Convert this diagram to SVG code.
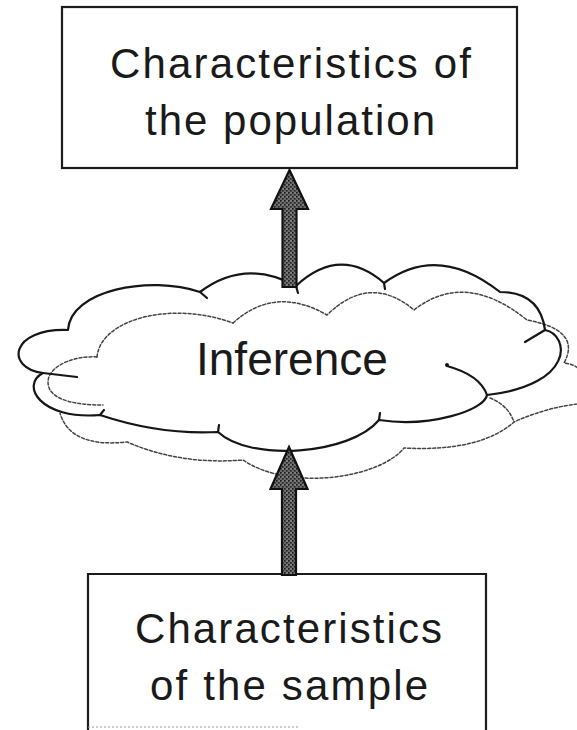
<svg xmlns="http://www.w3.org/2000/svg" width="577" height="730" viewBox="0 0 577 730">
  <defs>
    <!-- stippled texture for the block arrows -->
    <pattern id="stipple" width="4" height="4" patternUnits="userSpaceOnUse">
      <rect width="4" height="4" fill="#6a6a6a"/>
      <rect x="0" y="0" width="1.6" height="1.6" fill="#1a1a1a"/>
      <rect x="2" y="2" width="1.6" height="1.6" fill="#222"/>
      <rect x="2.5" y="0.5" width="1" height="1" fill="#b0b0b0"/>
    </pattern>
  </defs>
  <style>
    .box { fill: none; stroke: #1c1c1c; stroke-width: 2.2; }
    .label { font-family: "Liberation Sans", Arial, Helvetica, sans-serif; font-size: 42px; fill: #1a1a1a; }
    .cloud { fill: none; stroke: #161616; stroke-width: 2.2; stroke-linecap: round; stroke-linejoin: round; }
    .cloud-back { fill: none; stroke: #444; stroke-width: 1.5; stroke-dasharray: 3 2; stroke-linecap: round; }
    .arrow { fill: url(#stipple); stroke: #111; stroke-width: 2.2; stroke-linejoin: miter; }
  </style>

  <rect width="577" height="730" fill="#ffffff"/>

  <!-- top node -->
  <g id="population">
    <rect class="box" x="62" y="7" width="455" height="161"/>
    <text class="label" x="110" y="78" textLength="361" lengthAdjust="spacing">Characteristics of</text>
    <text class="label" x="145" y="135" textLength="290" lengthAdjust="spacing">the population</text>
  </g>

  <!-- middle node: cloud -->
  <g id="inference">
    <!-- rear outline, dashed -->
    <path class="cloud-back" d="M233,323 Q275,285 327,315 Q370,273 414,310 Q465,270 527,320 Q582,330 564,363 C590,365 600,400 577,404 Q545,408 514,422 Q480,452 404,448 C380,478 290,492 243,460 Q180,465 127,442 Q70,448 60,413"/>
    <path class="cloud-back" d="M97,357 C100,320 170,300 233,323"/>
    <path class="cloud-back" d="M97,357 C70,355 40,370 50,390 Q60,405 103,405"/>
    <path class="cloud-back" d="M490,398 Q508,405 514,422"/>
    <!-- front outline, solid -->
    <path class="cloud" d="M296,286 Q340,245 384,283 Q438,243 500,292 Q540,292 545,330 C570,335 575,385 487,395 C485,410 430,428 379,420 C350,455 250,462 218,432 Q160,435 100,415 C40,420 20,385 43,373 C5,368 10,328 68,330 C70,290 150,275 200,292 Q245,258 296,286"/>
    <path class="cloud" d="M447,366 Q480,375 487,395"/>
    <circle cx="447" cy="365" r="2" fill="#161616"/>
    <path class="cloud" d="M200,292 L207,298 M43,373 L77,377 M100,415 L104,410 M218,432 L219,425 M379,420 L380,413 M384,283 L385,289 M545,330 L525,342 M296,286 L298,293"/>
    <text class="label" x="196" y="375" style="font-size:46px">Inference</text>
  </g>

  <!-- bottom node -->
  <g id="sample">
    <path class="box" d="M88,730 V574 H486 V730"/>
    <path d="M88,727 H300" fill="none" stroke="#9a9a9a" stroke-width="1.2" stroke-dasharray="2 2"/>
    <text class="label" x="135" y="643" textLength="307" lengthAdjust="spacing">Characteristics</text>
    <text class="label" x="150" y="700" textLength="278" lengthAdjust="spacing">of the sample</text>
  </g>

  <!-- connectors -->
  <g id="connectors">
    <path class="arrow" d="M289.5,170 L308,209 L296.5,209 L296.5,287 L282.5,287 L282.5,209 L271,209 Z"/>
    <path class="arrow" d="M289,447 L307.5,489 L296,489 L296,575 L282,575 L282,489 L270.5,489 Z"/>
  </g>
</svg>
